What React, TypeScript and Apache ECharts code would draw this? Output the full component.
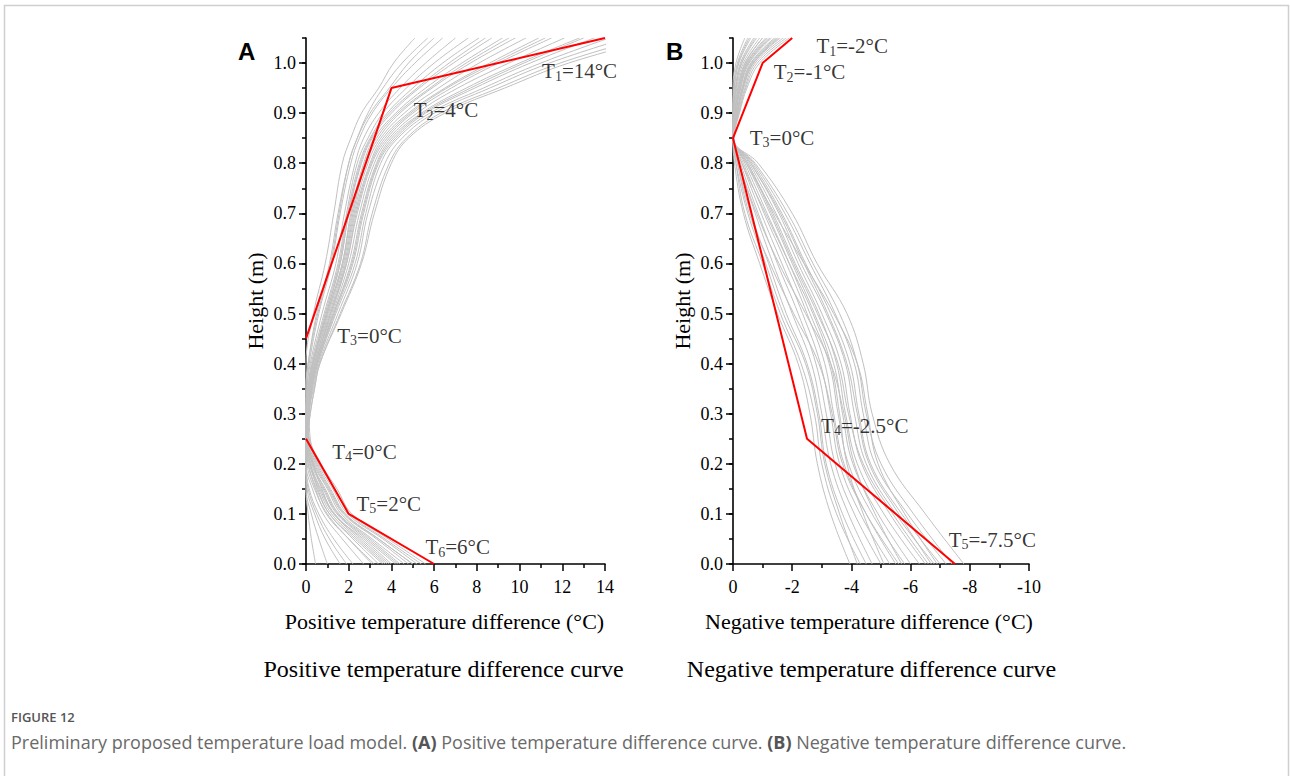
import React, { useEffect, useRef } from 'react';
import * as echarts from 'echarts';

// ---------- data ----------
const heightsA = [1.05, 1.0, 0.95, 0.9, 0.85, 0.8, 0.7, 0.6, 0.5, 0.4, 0.35, 0.3, 0.25, 0.2, 0.15, 0.1, 0.05, 0];
const sampleCurvesA: number[][] = [
  [5.1, 4.1, 3.4, 2.6, 2.1, 1.7, 1.3, 0.9, 0.35, 0, 0, 0, 0, 0.2, 0.7, 1.35, 2.6, 3.9],
  [5.7, 4.5, 3.6, 2.9, 2.4, 2.0, 1.5, 1.1, 0.5, 0.1, 0, 0, 0, 0, 0.05, 0.4, 0.9, 1.6],
  [6.0, 4.8, 3.9, 3.0, 2.4, 2.0, 1.55, 1.15, 0.55, 0.1, 0, 0, 0, 0, 0.1, 0.5, 1.1, 1.9],
  [6.4, 5.1, 4.0, 3.1, 2.5, 2.1, 1.6, 1.2, 0.6, 0.15, 0.05, 0, 0.1, 0.5, 1.15, 1.85, 3.4, 5.0],
  [7.0, 5.6, 4.4, 3.4, 2.7, 2.3, 1.8, 1.4, 0.75, 0.2, 0.05, 0, 0, 0.05, 0.4, 1.0, 2.0, 3.1],
  [7.6, 6.0, 4.7, 3.6, 2.9, 2.4, 1.9, 1.5, 0.85, 0.25, 0.1, 0, 0.05, 0.3, 0.9, 1.55, 3.0, 4.4],
  [8.1, 6.4, 5.0, 3.8, 3.0, 2.5, 1.95, 1.55, 0.9, 0.3, 0.1, 0, 0, 0, 0, 0.1, 0.25, 0.45],
  [8.4, 6.7, 5.2, 3.9, 3.05, 2.55, 2.0, 1.6, 0.95, 0.3, 0.1, 0, 0.05, 0.3, 0.85, 1.5, 2.9, 4.3],
  [8.7, 6.9, 5.3, 4.0, 3.1, 2.6, 2.0, 1.6, 0.95, 0.3, 0.1, 0, 0.15, 0.6, 1.35, 2.05, 3.7, 5.4],
  [9.2, 7.3, 5.6, 4.2, 3.2, 2.7, 2.1, 1.7, 1.0, 0.35, 0.15, 0, 0, 0.1, 0.5, 1.1, 2.2, 3.4],
  [9.5, 7.5, 5.8, 4.3, 3.3, 2.75, 2.15, 1.7, 1.0, 0.35, 0.15, 0, 0, 0.2, 0.65, 1.3, 2.5, 3.8],
  [9.8, 7.7, 5.9, 4.4, 3.4, 2.8, 2.2, 1.75, 1.05, 0.4, 0.15, 0.05, 0.05, 0.35, 1.0, 1.65, 3.1, 4.6],
  [10.3, 8.1, 6.2, 4.6, 3.5, 2.9, 2.25, 1.8, 1.1, 0.4, 0.2, 0.05, 0, 0, 0.15, 0.6, 1.3, 2.2],
  [10.9, 8.6, 6.5, 4.8, 3.6, 3.0, 2.3, 1.85, 1.15, 0.45, 0.2, 0.05, 0.15, 0.55, 1.25, 1.95, 3.6, 5.2],
  [11.2, 8.8, 6.6, 4.9, 3.7, 3.05, 2.35, 1.9, 1.15, 0.45, 0.2, 0.05, 0.1, 0.45, 1.1, 1.8, 3.4, 5.0],
  [11.5, 9.0, 6.8, 5.0, 3.8, 3.1, 2.4, 1.9, 1.2, 0.45, 0.2, 0.05, 0, 0, 0, 0.25, 0.6, 1.0],
  [12.1, 9.5, 7.1, 5.2, 3.9, 3.2, 2.5, 2.0, 1.25, 0.5, 0.25, 0.1, 0.02, 0.25, 0.8, 1.45, 2.8, 4.2],
  [12.8, 10.0, 7.5, 5.4, 4.0, 3.3, 2.6, 2.1, 1.3, 0.5, 0.25, 0.1, 0.1, 0.4, 1.05, 1.75, 3.3, 4.8],
  [13.0, 10.2, 7.7, 5.5, 4.1, 3.35, 2.65, 2.15, 1.3, 0.5, 0.25, 0.1, 0, 0.1, 0.45, 0.95, 2.0, 3.2],
  [13.5, 10.5, 7.9, 5.6, 4.2, 3.4, 2.7, 2.2, 1.35, 0.55, 0.3, 0.1, 0, 0, 0.3, 0.8, 1.7, 2.7],
  [14.2, 11.0, 8.3, 5.8, 4.3, 3.5, 2.8, 2.3, 1.4, 0.55, 0.3, 0.15, 0, 0.15, 0.6, 1.2, 2.4, 3.7],
  [15.0, 11.4, 8.6, 6.0, 4.5, 3.7, 2.9, 2.4, 1.5, 0.6, 0.35, 0.15, 0.2, 0.7, 1.45, 2.15, 3.85, 5.6],
  [15.8, 11.9, 9.0, 6.3, 4.7, 3.9, 3.1, 2.55, 1.6, 0.65, 0.4, 0.2, 0.05, 0.2, 0.55, 1.1, 2.3, 3.6],
  [16.5, 12.3, 9.3, 6.5, 4.8, 4.0, 3.2, 2.6, 1.65, 0.65, 0.4, 0.2, 0.1, 0.35, 0.75, 1.3, 2.7, 4.0],
];

const heightsB = [1.05, 1.0, 0.95, 0.9, 0.85, 0.8, 0.7, 0.6, 0.5, 0.4, 0.3, 0.2, 0.1, 0];
const sampleCurvesB: number[][] = [
  [-0.8, -0.3, -0.1, -0.03, 0, -0.05, -0.35, -0.9, -1.5, -2.2, -2.6, -2.85, -3.3, -3.95],
  [-0.55, -0.18, -0.04, 0, 0, -0.1, -0.5, -1.1, -1.7, -2.45, -2.85, -3.1, -3.6, -4.2],
  [-1.5, -0.65, -0.33, -0.15, -0.02, -0.1, -0.4, -1.0, -1.6, -2.3, -2.75, -3.0, -3.5, -4.3],
  [-0.5, -0.15, -0.02, 0, 0, -0.15, -0.6, -1.2, -1.8, -2.5, -2.9, -3.15, -3.7, -4.5],
  [-1.2, -0.5, -0.23, -0.1, -0.01, -0.2, -0.75, -1.35, -2.0, -2.65, -3.0, -3.3, -3.9, -4.7],
  [-1.8, -0.82, -0.43, -0.2, -0.02, -0.25, -0.85, -1.5, -2.2, -2.8, -3.15, -3.45, -4.1, -5.0],
  [-1.55, -0.68, -0.34, -0.15, -0.02, -0.15, -0.55, -1.25, -2.05, -2.9, -3.35, -3.7, -4.5, -5.6],
  [-0.4, -0.1, 0, 0, 0, -0.3, -0.95, -1.65, -2.35, -2.95, -3.3, -3.6, -4.3, -5.3],
  [-1.25, -0.52, -0.25, -0.1, -0.01, -0.2, -0.8, -1.55, -2.45, -3.3, -3.75, -4.1, -4.8, -5.7],
  [-1.0, -0.4, -0.16, -0.06, 0, -0.35, -1.05, -1.8, -2.5, -3.1, -3.4, -3.75, -4.5, -5.5],
  [-1.7, -0.75, -0.4, -0.18, -0.02, -0.4, -1.15, -1.9, -2.6, -3.25, -3.55, -3.9, -4.7, -5.8],
  [-0.6, -0.2, -0.05, 0, 0, -0.45, -1.25, -2.0, -2.75, -3.4, -3.7, -4.05, -4.9, -6.0],
  [-1.3, -0.55, -0.26, -0.11, -0.01, -0.5, -1.35, -2.1, -2.9, -3.5, -3.8, -4.2, -5.1, -6.3],
  [-1.9, -0.9, -0.47, -0.22, -0.03, -0.55, -1.45, -2.2, -3.0, -3.65, -3.95, -4.35, -5.3, -6.5],
  [-0.75, -0.28, -0.1, -0.03, 0, -0.5, -1.3, -2.05, -2.85, -3.55, -3.9, -4.4, -5.4, -6.6],
  [-0.9, -0.35, -0.13, -0.05, 0, -0.6, -1.55, -2.3, -3.15, -3.8, -4.1, -4.5, -5.5, -6.8],
  [-1.15, -0.47, -0.21, -0.09, 0, -0.6, -1.6, -2.4, -3.2, -3.85, -4.2, -4.6, -5.6, -6.7],
  [-1.4, -0.6, -0.3, -0.13, -0.01, -0.65, -1.65, -2.45, -3.3, -3.95, -4.25, -4.65, -5.7, -7.0],
  [-0.7, -0.25, -0.08, -0.02, 0, -0.7, -1.75, -2.6, -3.45, -4.1, -4.4, -4.8, -5.9, -7.2],
  [-1.6, -0.7, -0.36, -0.16, -0.02, -0.75, -1.85, -2.7, -3.6, -4.2, -4.5, -5.0, -6.1, -7.4],
  [-1.1, -0.45, -0.2, -0.08, 0, -0.85, -2.0, -2.84, -3.85, -4.4, -4.7, -5.3, -6.5, -7.8],
  [-1.0, -0.42, -0.18, -0.07, 0, -0.3, -1.1, -1.9, -2.7, -3.3, -3.6, -3.85, -4.4, -5.1],
  [-1.45, -0.62, -0.31, -0.14, -0.01, -0.45, -1.4, -2.4, -3.4, -4.2, -4.55, -4.9, -5.8, -6.9],
];

// proposed (red) load model
const proposedAUpper = [[14, 1.05], [4, 0.95], [0, 0.45]];
const proposedALower = [[0, 0.25], [2, 0.1], [6, 0]];
const proposedB = [[-2, 1.05], [-1, 1.0], [0, 0.85], [-2.5, 0.25], [-7.5, 0]];

// annotation texts
const labelsA = [
  { sub: '1', rest: '=14°C' },
  { sub: '2', rest: '=4°C' },
  { sub: '3', rest: '=0°C' },
  { sub: '4', rest: '=0°C' },
  { sub: '5', rest: '=2°C' },
  { sub: '6', rest: '=6°C' },
];
const labelsB = [
  { sub: '1', rest: '=-2°C' },
  { sub: '2', rest: '=-1°C' },
  { sub: '3', rest: '=0°C' },
  { sub: '4', rest: '=-2.5°C' },
  { sub: '5', rest: '=-7.5°C' },
];
// annotation anchors (data coordinates: temperature, height)
const anchorsA = [[11.03, 0.984], [5.02, 0.906], [1.44, 0.456], [1.2, 0.224], [2.34, 0.12], [5.57, 0.033]];
const anchorsB = [[-2.8, 1.034], [-1.36, 0.982], [-0.55, 0.851], [-2.96, 0.276], [-7.27, 0.048]];

// tick labels
const yTickValues = [0, 0.1, 0.2, 0.3, 0.4, 0.5, 0.6, 0.7, 0.8, 0.9, 1.0];

const serif = '"Liberation Serif", "Times New Roman", Times, serif';
const GRAY = '#c0c0c0';
const RED = '#ff0000';

function mainY(gridIndex: number) {
  return {
    type: 'value', gridIndex, min: 0, max: 1.05,
    name: 'Height (m)', nameLocation: 'middle', nameGap: 40,
    nameTextStyle: { fontFamily: serif, fontSize: 22, color: '#000' },
    axisLine: { show: true, lineStyle: { color: '#000', width: 1.6 } },
    axisTick: { show: true, customValues: yTickValues, length: 7, lineStyle: { color: '#000', width: 1.5 } },
    axisLabel: {
      customValues: yTickValues, margin: 10, fontFamily: serif, fontSize: 18, color: '#000',
      formatter: (v: number) => v.toFixed(1),
    },
    splitLine: { show: false },
  };
}
function minorY(gridIndex: number) {
  return {
    type: 'value', gridIndex, min: 0, max: 1.05, interval: 0.05, position: 'left',
    axisLine: { show: false },
    axisTick: { show: true, length: 4, lineStyle: { color: '#000', width: 1.5 } },
    axisLabel: { show: false },
    splitLine: { show: false },
  };
}
function mainX(gridIndex: number, min: number, max: number, inverse: boolean, name: string, shift: number) {
  return {
    type: 'value', gridIndex, min, max, interval: 2, inverse,
    name, nameLocation: 'middle', nameGap: 46,
    nameTextStyle: { fontFamily: serif, fontSize: 22, color: '#000', padding: [0, shift, 0, 0] },
    axisLine: { show: true, onZero: false, lineStyle: { color: '#000', width: 1.6 } },
    axisTick: { show: true, length: 7, lineStyle: { color: '#000', width: 1.5 } },
    minorTick: { show: true, splitNumber: 2, length: 4, lineStyle: { color: '#000', width: 1.5 } },
    axisLabel: { margin: 14, fontFamily: serif, fontSize: 18, color: '#000' },
    splitLine: { show: false },
    minorSplitLine: { show: false },
  };
}

function grayLines(curves: number[][], heights: number[], xi: number, yi: number) {
  return curves.map((c) => ({
    type: 'line', xAxisIndex: xi, yAxisIndex: yi,
    data: heights.map((h, i) => [c[i], h]),
    symbol: 'none', smooth: 0.4, silent: true, z: 2,
    lineStyle: { color: GRAY, width: 1 },
    emphasis: { disabled: true },
  }));
}
function redLine(data: number[][], xi: number, yi: number) {
  return {
    type: 'line', xAxisIndex: xi, yAxisIndex: yi, data, symbol: 'none', silent: true, z: 4,
    lineStyle: { color: RED, width: 2 }, emphasis: { disabled: true },
  };
}
const rich = {
  n: { fontFamily: serif, fontSize: 21, color: '#000', lineHeight: 24 },
  s: { fontFamily: serif, fontSize: 14, color: '#000', lineHeight: 14, padding: [10, 0, 0, 0] },
};
function labelSeries(anchors: number[][], labels: { sub: string; rest: string }[], xi: number, yi: number) {
  return {
    type: 'scatter', xAxisIndex: xi, yAxisIndex: yi, symbolSize: 1, silent: true, z: 6,
    itemStyle: { color: 'rgba(0,0,0,0)' },
    label: { show: true, position: 'right', distance: 0, rich },
    data: anchors.map((p, i) => ({
      value: p,
      label: { formatter: `{n|T}{s|${labels[i].sub}}{n|${labels[i].rest}}` },
    })),
  };
}

export default function App() {
  const ref = useRef<HTMLDivElement>(null);
  useEffect(() => {
    if (!ref.current) return;
    const chart = echarts.init(ref.current, undefined, { renderer: 'svg' });
    const capSans = '"Open Sans", "Noto Sans", sans-serif';
    chart.setOption({
      animation: false,
      backgroundColor: '#fff',
      grid: [
        { left: 306, top: 38, width: 299, height: 526 },
        { left: 733, top: 38, width: 296, height: 526 },
      ],
      xAxis: [
        mainX(0, 0, 14, false, 'Positive temperature difference (°C)', 22),
        mainX(1, -10, 0, true, 'Negative temperature difference (°C)', 24),
      ],
      yAxis: [mainY(0), minorY(0), mainY(1), minorY(1)],
      series: [
        ...grayLines(sampleCurvesA, heightsA, 0, 0),
        ...grayLines(sampleCurvesB, heightsB, 1, 2),
        redLine(proposedAUpper, 0, 0),
        redLine(proposedALower, 0, 0),
        redLine(proposedB, 1, 2),
        labelSeries(anchorsA, labelsA, 0, 0),
        labelSeries(anchorsB, labelsB, 1, 2),
      ],
      graphic: [
        { type: 'line', shape: { x1: 4, y1: 5.5, x2: 1289, y2: 5.5 }, style: { stroke: '#cfcfcf', lineWidth: 1.5 }, silent: true },
        { type: 'line', shape: { x1: 4.5, y1: 5, x2: 4.5, y2: 776 }, style: { stroke: '#cfcfcf', lineWidth: 1.5 }, silent: true },
        { type: 'line', shape: { x1: 1288.5, y1: 5, x2: 1288.5, y2: 776 }, style: { stroke: '#cfcfcf', lineWidth: 1.5 }, silent: true },
        { type: 'text', x: 238, y: 51, style: { text: 'A', font: 'bold 24px "Liberation Sans", Arial, sans-serif', fill: '#000', textAlign: 'left', textVerticalAlign: 'middle' } },
        { type: 'text', x: 666, y: 51, style: { text: 'B', font: 'bold 24px "Liberation Sans", Arial, sans-serif', fill: '#000', textAlign: 'left', textVerticalAlign: 'middle' } },
        { type: 'text', x: 443.5, y: 669, style: { text: 'Positive temperature difference curve', font: `24px ${serif}`, fill: '#000', textAlign: 'center', textVerticalAlign: 'middle' } },
        { type: 'text', x: 871.5, y: 669, style: { text: 'Negative temperature difference curve', font: `24px ${serif}`, fill: '#000', textAlign: 'center', textVerticalAlign: 'middle' } },
        { type: 'text', x: 11, y: 717, style: { text: 'FIGURE 12', font: `600 13px ${capSans}`, fill: '#555', textAlign: 'left', textVerticalAlign: 'middle' } },
        {
          type: 'text', x: 11, y: 742,
          style: {
            text: '{n|Preliminary proposed temperature load model. }{b|(A)}{n| Positive temperature difference curve. }{b|(B)}{n| Negative temperature difference curve.}',
            textAlign: 'left', textVerticalAlign: 'middle',
            rich: {
              n: { fontFamily: capSans, fontSize: 18, fill: '#6a6a6a' },
              b: { fontFamily: capSans, fontSize: 18, fontWeight: 'bold', fill: '#555' },
            },
          },
        },
      ],
    });
    return () => chart.dispose();
  }, []);
  return <div ref={ref} style={{ position: 'absolute', left: 0, top: 0, width: 1290, height: 776 }} />;
}
